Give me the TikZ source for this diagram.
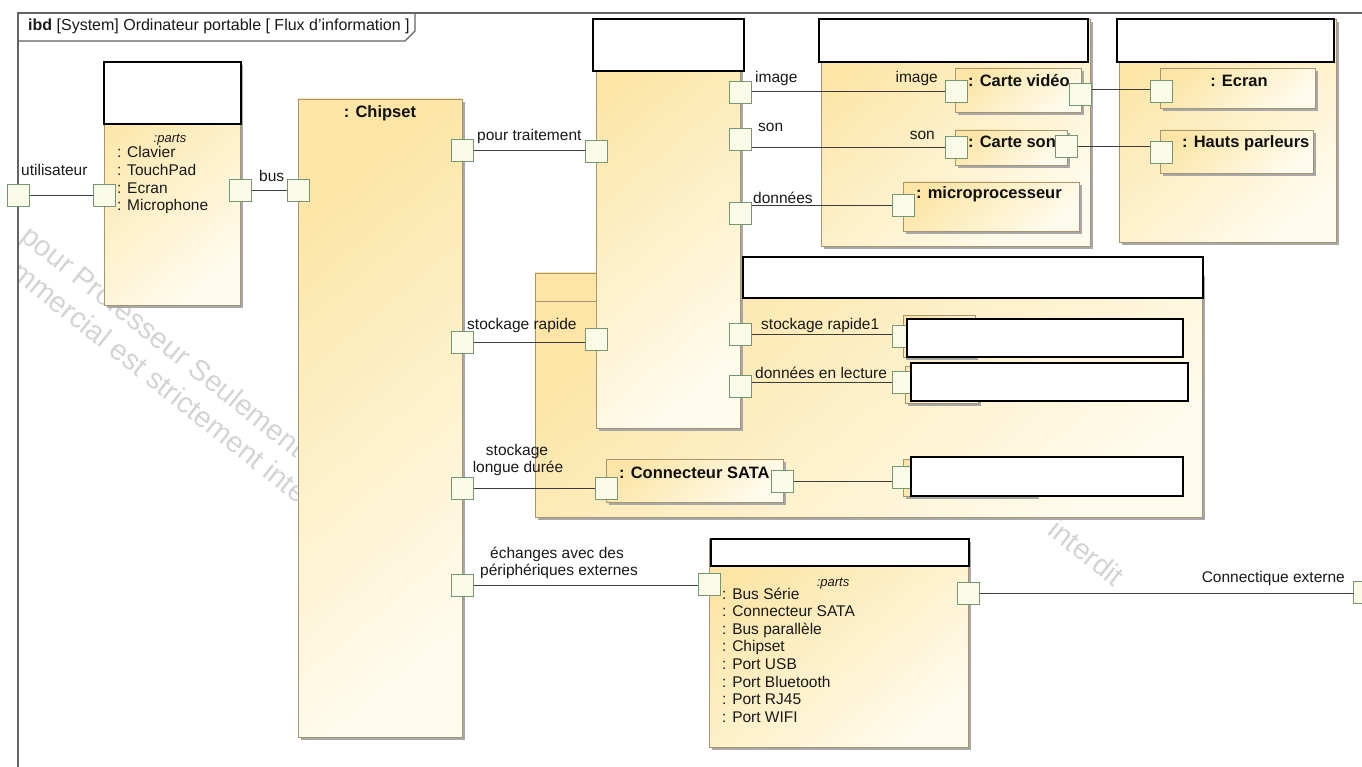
\documentclass[tikz,border=0pt]{standalone}
\usepackage{fontspec}
\setmainfont{Liberation Sans}
\usetikzlibrary{shadows}
\definecolor{frameC}{RGB}{100,100,100}
\definecolor{bTop}{RGB}{252,229,166}
\definecolor{bBot}{RGB}{255,251,236}
\definecolor{bBorder}{RGB}{165,150,115}
\definecolor{shadowC}{RGB}{168,168,168}
\definecolor{portFill}{RGB}{250,252,232}
\definecolor{portDraw}{RGB}{115,150,115}
\definecolor{lineC}{RGB}{60,60,60}
\definecolor{txtC}{RGB}{25,25,25}
\definecolor{ttlC}{RGB}{15,15,15}
\definecolor{wmC}{RGB}{212,212,212}
\pgfdeclarelayer{wmlayer}
\pgfdeclarelayer{linelayer}
\pgfdeclarelayer{portlayer}
\pgfdeclarelayer{redlayer}
\pgfsetlayers{wmlayer,main,linelayer,portlayer,redlayer}
\tikzset{
  blk/.style={draw=bBorder, line width=0.8pt, top color=bTop, bottom color=bBot, shading angle=40,
    anchor=north west, inner sep=0pt, outer sep=0pt,
    drop shadow={shadow xshift=3pt, shadow yshift=-3pt, fill=shadowC, opacity=1}},
  redbox/.style={draw=black, line width=2pt, fill=white, anchor=north west, inner sep=0pt, outer sep=0pt},
  port/.style={draw=portDraw, fill=portFill, line width=0.8pt, minimum size=22pt, inner sep=0pt, outer sep=0pt},
  conn/.style={draw=lineC, line width=0.9pt},
  frameline/.style={draw=frameC, line width=1.2pt},
  lbl/.style={font=\fontsize{15.5}{17.6}\selectfont, text=txtC, inner sep=0pt, anchor=base west},
  lblc/.style={lbl, anchor=base},
  lble/.style={lbl, anchor=base east},
  ttl/.style={font=\bfseries\fontsize{16.5}{19}\selectfont, text=ttlC, inner sep=0pt, anchor=base west},
  ttlc/.style={ttl, anchor=base},
  prts/.style={font=\itshape\fontsize{13}{15}\selectfont, text=txtC, inner sep=0pt, anchor=base},
  wm/.style={font=\fontsize{29}{32}\selectfont, text=wmC, inner sep=0pt, anchor=base west, rotate=-38.5},
}
\begin{document}
\begin{tikzpicture}[x=1pt,y=-1pt]
\useasboundingbox (0,0) rectangle (1362,767);

% background and watermark
\begin{pgfonlayer}{wmlayer}
\fill[white] (0,0) rectangle (1362,767);
\begin{scope}
\clip (19,14) rectangle (1362,767);
\node[wm] (wm1) at (19,239) {pour Professeur Seulement};
\node[wm] (wm2) at (-20,252) {Commercial est strictement interdit};
\node[wm] (wm4) at (1046,533) {interdit};
\end{scope}
\end{pgfonlayer}

% frame
\draw[frameline] (18,780) -- (18,13) -- (1375,13);
\draw[frameline] (18,41) -- (405,41) -- (415,31) -- (415,13);
\node[lbl, font=\fontsize{16}{18}\selectfont] (tab) at (28,31) {\textbf{ibd} [System] Ordinateur portable [ Flux d'information ]};

% blocks
\node[blk, minimum width=136pt, minimum height=243pt] (lblk) at (104,62) {};
\node[blk, minimum width=164pt, minimum height=638pt] (chip) at (298,99) {};
\node[blk, minimum width=667pt, minimum height=244pt] (stor) at (535,273) {};
\draw[draw=bBorder, line width=0.8pt] (stor.north west |- 0,301) -- (600,301);
\node[blk, minimum width=144pt, minimum height=409pt] (mid) at (596,19) {};
\node[blk, minimum width=269pt, minimum height=227pt] (grpA) at (821,19) {};
\node[blk, minimum width=217pt, minimum height=223pt] (grpB) at (1119,19) {};
\node[blk, minimum width=259pt, minimum height=208pt] (bot) at (709,539) {};

% parts
\node[blk, minimum width=126pt, minimum height=44pt] (cvid) at (955,68) {};
\node[blk, minimum width=112pt, minimum height=35pt] (cson) at (955,130) {};
\node[blk, minimum width=176pt, minimum height=49pt] (micro) at (903,182) {};
\node[blk, minimum width=155pt, minimum height=40pt] (ecran) at (1160,68) {};
\node[blk, minimum width=153pt, minimum height=43pt] (hp) at (1160,130) {};
\node[blk, minimum width=177pt, minimum height=43pt] (sata) at (606,459) {};
\node[blk, minimum width=72pt, minimum height=42pt] (r1) at (903,315) {};
\node[blk, minimum width=73pt, minimum height=37pt] (r2) at (905,366) {};
\node[blk, minimum width=133pt, minimum height=37pt] (r3) at (903,459) {};

% titles and contents
\node[ttlc] (tchip) at (380,118) {: Chipset};
\node[ttl] (tcvid) at (968,87) {: Carte vidéo};
\node[ttl] (tcson) at (968,148) {: Carte son};
\node[ttl] (tmicro) at (916,199) {: microprocesseur};
\node[ttlc] (tecran) at (1239,87) {: Ecran};
\node[ttl] (thp) at (1182,148) {: Hauts parleurs};
\node[ttl] (tsata) at (619,478) {: Connecteur SATA};

\node[prts] (pl) at (170,143) {:parts};
\foreach \t [count=\i] in {Clavier,TouchPad,Ecran,Microphone}
  \node[lbl] (li\i) at (117,{158+17.6*(\i-1)}) {: \t};
\node[prts] (pb) at (833,586) {:parts};
\foreach \t [count=\i] in {Bus Série,Connecteur SATA,Bus parallèle,Chipset,Port USB,Port Bluetooth,Port RJ45,Port WIFI}
  \node[lbl] (bi\i) at (722,{599+17.6*(\i-1)}) {: \t};

% ports
\begin{pgfonlayer}{portlayer}
\node[port] (pU) at (18,195) {};
\node[port] (pL1) at (104,195) {};
\node[port] (pL2) at (240,190) {};
\node[port] (pC1) at (298,190) {};
\node[port] (pC2) at (462,150) {};
\node[port] (pC3) at (462,342) {};
\node[port] (pC4) at (462,488) {};
\node[port] (pC5) at (462,585) {};
\node[port] (pM1) at (596,151) {};
\node[port] (pM2) at (596,339) {};
\node[port] (pMi) at (740,92) {};
\node[port] (pMs) at (740,139) {};
\node[port] (pMd) at (740,213) {};
\node[port] (pMr) at (740,334) {};
\node[port] (pMl) at (740,386) {};
\node[port] (pVl) at (956,91) {};
\node[port] (pVr) at (1080,94) {};
\node[port] (pSl) at (956,147) {};
\node[port] (pSr) at (1066,146) {};
\node[port] (pP) at (903,205) {};
\node[port] (pE) at (1161,91) {};
\node[port] (pH) at (1161,152) {};
\node[port] (pR1) at (903,336) {};
\node[port] (pR2) at (903,382) {};
\node[port] (pR3) at (903,477) {};
\node[port] (pSA) at (606,488) {};
\node[port] (pSB) at (782,481) {};
\node[port] (pB1) at (709,584) {};
\node[port] (pB2) at (968,593) {};
\node[port] (pX) at (1364,592) {};
\end{pgfonlayer}

% connectors
\begin{pgfonlayer}{linelayer}
\draw[conn] (pU) -- (pL1);
\draw[conn] (pL2) -- (pC1);
\draw[conn] (pC2) -- (pC2 -| pM1);
\draw[conn] (pMi |- pVl) -- (pVl);
\draw[conn] (pMs |- pSl) -- (pSl);
\draw[conn] (pMd |- pP) -- (pP);
\draw[conn] ([yshift=5pt]pVr.center) -- ([yshift=2pt]pE.center);
\draw[conn] (pSr) -- (pSr -| pH);
\draw[conn] (pC3) -- (pC3 -| pM2);
\draw[conn] (pMr) -- (pMr -| pR1);
\draw[conn] (pMl |- pR2) -- (pR2);
\draw[conn] (pC4) -- (pSA);
\draw[conn] (pSB) -- (pSB -| pR3);
\draw[conn] (pC5) -- (pC5 -| pB1);
\draw[conn] (pB2) -- (pB2 -| pX);
\end{pgfonlayer}

% connector labels
\node[lbl] (lu) at (21,176) {utilisateur};
\node[lbl] (lbus) at (259,182) {bus};
\node[lbl] (lpt) at (477,141) {pour traitement};
\node[lbl] (limg) at (755,83) {image};
\node[lbl] (lson) at (758,132) {son};
\node[lbl] (ldon) at (753,204) {données};
\node[lble] (limg2) at (938,83) {image};
\node[lble] (lson2) at (935,140) {son};
\node[lbl] (lsr) at (467,329) {stockage rapide};
\node[lbl] (lsr1) at (761,329) {stockage rapide1};
\node[lbl] (ldl) at (755,378) {données en lecture};
\node[lblc] (lsl1) at (517,455) {stockage};
\node[lblc] (lsl2) at (518,472) {longue durée};
\node[lblc] (le1) at (557,558) {échanges avec des};
\node[lblc] (le2) at (559,575) {périphériques externes};
\node[lble] (lce) at (1345,582) {Connectique externe};

% redaction boxes
\begin{pgfonlayer}{redlayer}
\node[redbox, minimum width=137pt, minimum height=62pt] (rL) at (104,62) {};
\node[redbox, minimum width=151pt, minimum height=52pt] (rM) at (593,19) {};
\node[redbox, minimum width=269pt, minimum height=43pt] (rA) at (819,19) {};
\node[redbox, minimum width=217pt, minimum height=43pt] (rB) at (1117,19) {};
\node[redbox, minimum width=460pt, minimum height=41pt] (rS) at (743,257) {};
\node[redbox, minimum width=276pt, minimum height=38pt] (rR1) at (907,319) {};
\node[redbox, minimum width=277pt, minimum height=38pt] (rR2) at (911,363) {};
\node[redbox, minimum width=272pt, minimum height=39pt] (rR3) at (911,457) {};
\node[redbox, minimum width=258pt, minimum height=27pt] (rBot) at (711,539) {};
\end{pgfonlayer}
\end{tikzpicture}
\end{document}
